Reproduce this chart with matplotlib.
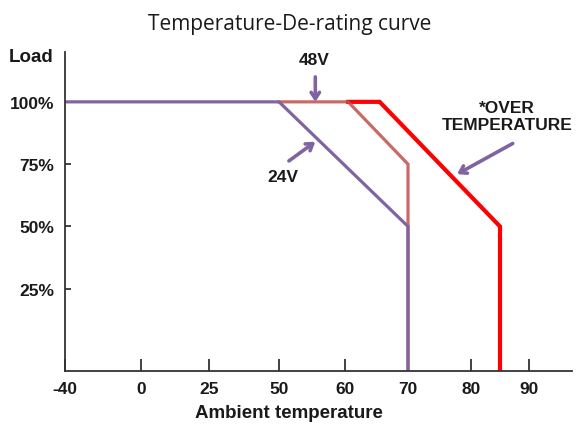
import numpy as np
import matplotlib
matplotlib.use('Agg')
import matplotlib.pyplot as plt

# tick temperatures on the (non-linear) x axis and load ticks
x_ticks = [-40, 0, 25, 50, 60, 70, 80, 90]
y_ticks = [25, 50, 75, 100]
y_labels = ['25%', '50%', '75%', '100%']

# derating curves (temperature, load %)
t_24v = [-40, 50, 70, 70]
load_24v = [100, 100, 50, -8]
t_48v = [50, 60.5, 70, 70]
load_48v = [100, 100, 75, -8]
t_otp = [60.5, 65.5, 85, 85]
load_otp = [100, 100, 50, -8]

# piecewise x scale so the picture's uneven tick spacing is kept
scale_t = [-40, 0, 25, 50, 60, 70, 80, 90, 95]
scale_p = [0, 76, 144, 214, 280, 343, 406, 464, 507]


def fwd(x):
    return np.interp(x, scale_t, scale_p, left=-1e9, right=1e9)


def inv(p):
    return np.interp(p, scale_p, scale_t)


purple = '#8064A2'
brick = '#C0504D'
red = '#FF0000'
ink = '#1a1a1a'

fig = plt.figure(figsize=(5.79, 4.31), dpi=100)
ax = fig.add_axes([0.1123, 0.1369, 0.8756, 0.7401])
ax.set_xscale('function', functions=(fwd, inv))
ax.set_xlim(-40, 95)
ax.set_ylim(-8, 120)

ax.plot(t_otp, load_otp, color=red, lw=3.0, solid_joinstyle='miter')
ax.plot(t_48v, load_48v, color=brick, lw=2.3, alpha=0.85, solid_joinstyle='miter')
ax.plot(t_24v, load_24v, color=purple, lw=2.3, solid_joinstyle='miter')

for s in ['top', 'right']:
    ax.spines[s].set_visible(False)
for s in ['left', 'bottom']:
    ax.spines[s].set_linewidth(1.3)
    ax.spines[s].set_color('#333333')

ax.set_xticks(x_ticks)
ax.set_xticklabels([str(t) for t in x_ticks])
ax.set_yticks(y_ticks)
ax.set_yticklabels(y_labels)
ax.tick_params(axis='x', direction='in', length=9, width=1.3, color='#333333', pad=7)
ax.tick_params(axis='y', direction='in', length=4.5, width=1.3, color='#333333', pad=8)
for lab in ax.get_xticklabels() + ax.get_yticklabels():
    lab.set_fontfamily('Liberation Sans')
    lab.set_fontweight('bold')
    lab.set_fontsize(12.5)
    lab.set_color(ink)

ax.set_xlabel('Ambient temperature', fontfamily='Liberation Sans', fontweight='bold',
              fontsize=13.5, color=ink)
ax.xaxis.set_label_coords(0.442, -0.103)
fig.text(0.054, 0.866, 'Load', fontfamily='Liberation Sans', fontweight='bold',
         fontsize=13.5, color=ink, ha='center', va='center')
fig.suptitle('Temperature-De-rating curve', fontfamily='Open Sans', fontsize=15,
             y=0.967, va='top', color=ink)

# annotations with purple arrows
arrow = dict(arrowstyle='->,head_length=0.45,head_width=0.3', color=purple, lw=2.6,
             shrinkA=0, shrinkB=0)
lab_kw = dict(fontfamily='Liberation Sans', fontweight='bold', fontsize=12.5,
              color=ink, ha='center', va='center')
ax.annotate('', xy=(55.5, 100), xytext=(55.5, 110), arrowprops=arrow)
ax.text(55.3, 117, '48V', **lab_kw)
ax.annotate('', xy=(55.5, 84), xytext=(51.5, 76.3), arrowprops=arrow)
ax.text(50.6, 70, '24V', **lab_kw)
ax.annotate('', xy=(77.8, 71), xytext=(87.2, 83.3), arrowprops=arrow)
ax.text(86.2, 94.4, '*OVER\nTEMPERATURE', linespacing=1.2, **lab_kw)

fig.savefig('out.png', dpi=100)
